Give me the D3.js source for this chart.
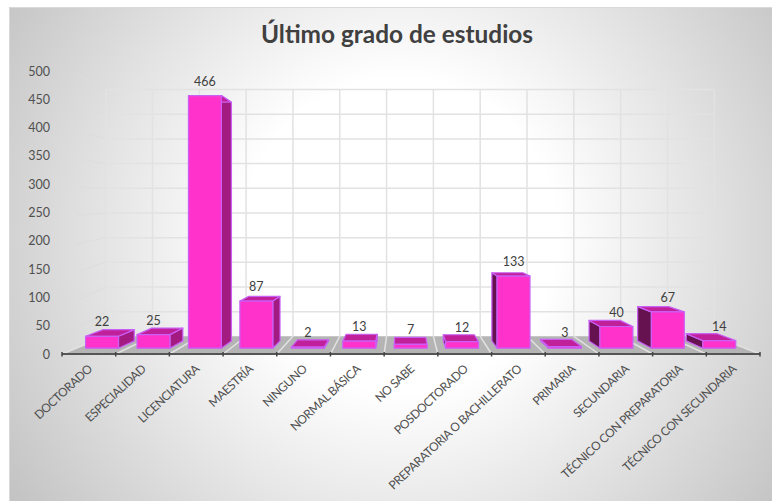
<!DOCTYPE html>
<html>
<head>
<meta charset="utf-8">
<script src="https://cdn.jsdelivr.net/npm/d3@7"></script>
<style>
  html, body { margin: 0; padding: 0; background: #fff; }
  svg { display: block; }
  text { font-family: Lato, "Open Sans", sans-serif; }
</style>
</head>
<body>
<svg id="chart" width="772" height="501"></svg>
<script>
const chartTitle = 'Último grado de estudios';
const categories = ['DOCTORADO', 'ESPECIALIDAD', 'LICENCIATURA', 'MAESTRÍA', 'NINGUNO', 'NORMAL BÁSICA', 'NO SABE',
  'POSDOCTORADO', 'PREPARATORIA O BACHILLERATO', 'PRIMARIA', 'SECUNDARIA', 'TÉCNICO CON PREPARATORIA', 'TÉCNICO CON SECUNDARIA'];
const values = [22, 25, 466, 87, 2, 13, 7, 12, 133, 3, 40, 67, 14];
const yTicks = [0, 50, 100, 150, 200, 250, 300, 350, 400, 450, 500];

const svg = d3.select('#chart');
const panel = { x: 9, y: 7, w: 763, h: 494 };

// front plane of the 3d box, the rest comes from the projection
const x = d3.scaleBand().domain(categories).range([62, 760]).paddingInner(0).paddingOuter(0);
const y = d3.scaleLinear().domain([0, 500]).range([354, 71]);

// depth: 1 = front edge, the back wall is smaller and closer to the vanishing point
const vanish = { x: 403, y: 216 };
const wallDepth = 0.872, barFront = 0.958, barBack = 0.905;
const barWidth = 0.64;

const project = (px, value, s) => [vanish.x + s * (px - vanish.x), vanish.y + s * (y(value) - vanish.y)];
const poly = pts => 'M' + pts.map(p => p.join(',')).join('L') + 'Z';

// background
const defs = svg.append('defs');
const grad = defs.append('radialGradient').attr('id', 'bg')
  .attr('gradientUnits', 'userSpaceOnUse')
  .attr('cx', 400).attr('cy', 235).attr('r', 490);
grad.append('stop').attr('offset', '0.32').attr('stop-color', '#ffffff');
grad.append('stop').attr('offset', '1').attr('stop-color', '#bfbfbf');

svg.append('rect')
  .attr('x', panel.x).attr('y', panel.y)
  .attr('width', panel.w).attr('height', panel.h)
  .attr('fill', 'url(#bg)');

// lighter edge on the top and left of the panel
svg.append('path')
  .attr('d', d3.line()([[panel.x + 0.5, panel.y + panel.h], [panel.x + 0.5, panel.y + 0.5], [panel.x + panel.w, panel.y + 0.5]]))
  .attr('fill', 'none').attr('stroke', '#d9d9d9').attr('stroke-width', 1);

svg.append('text')
  .attr('x', 397).attr('y', 43)
  .attr('text-anchor', 'middle')
  .attr('font-size', 24.4).attr('font-weight', 700)
  .attr('fill', '#404040')
  .text(chartTitle);

// floor
const [x0, x1] = x.range();
svg.append('path')
  .attr('d', poly([project(x0, 0, 1), project(x1, 0, 1), project(x1, 0, wallDepth), project(x0, 0, wallDepth)]))
  .attr('fill', '#b4b4b4');

// gridlines on the side wall and back wall
const grid = svg.append('g').attr('fill', 'none').attr('stroke', '#e2e2e2').attr('stroke-width', 1.5);
yTicks.slice(1).forEach(t => {
  const a = project(x0, t, 1), b = project(x0, t, wallDepth), c = project(x1, t, wallDepth);
  grid.append('path').attr('d', d3.line()([[a[0] + 15, a[1] + 3], b])).attr('stroke', '#dcdcdc').attr('stroke-opacity', 0.6);
  grid.append('path').attr('d', d3.line()([b, c]));
});
const edges = categories.map(c => x(c)).concat(x1);
edges.forEach(e => {
  grid.append('path').attr('d', d3.line()([project(e, 0, wallDepth), project(e, 500, wallDepth)]));
  grid.append('path').attr('d', d3.line()([project(e, 0, 1), project(e, 0, wallDepth)]));
});

// bars
const barX = d => x(d.cat) + x.bandwidth() * (1 - barWidth) / 2;
const data = categories.map((cat, i) => ({ cat, value: values[i] }));
const bars = svg.append('g').selectAll('g').data(data).join('g')
  .attr('stroke', '#c95ff5').attr('stroke-width', 1.2).attr('stroke-linejoin', 'round');

bars.each(function (d) {
  const g = d3.select(this);
  const l = barX(d), r = l + x.bandwidth() * barWidth;
  const p = (px, v, s) => project(px, v, s);
  const topFace = [p(l, d.value, barFront), p(r, d.value, barFront), p(r, d.value, barBack), p(l, d.value, barBack)];
  // side that faces the vanishing point
  if (r < vanish.x) {
    g.append('path').attr('fill', '#a31b80')
      .attr('d', poly([p(r, 0, barFront), p(r, d.value, barFront), p(r, d.value, barBack), p(r, 0, barBack)]));
  } else if (l > vanish.x) {
    g.append('path').attr('fill', '#661250')
      .attr('d', poly([p(l, 0, barFront), p(l, d.value, barFront), p(l, d.value, barBack), p(l, 0, barBack)]));
  }
  g.append('path').attr('fill', '#c0209a').attr('d', poly(topFace));
  g.append('path').attr('fill', '#ff33cc')
    .attr('d', poly([p(l, 0, barFront), p(r, 0, barFront), p(r, d.value, barFront), p(l, d.value, barFront)]));
});

// value labels sit a fixed distance above the front top edge
svg.append('g').selectAll('text').data(data).join('text')
  .attr('x', d => project(x(d.cat) + x.bandwidth() / 2, d.value, barFront)[0])
  .attr('y', d => project(0, d.value, barFront)[1] - 10)
  .attr('text-anchor', 'middle')
  .attr('font-size', 12.5)
  .attr('fill', '#404040')
  .text(d => d.value);

// y axis
const yAxis = svg.append('g')
  .attr('transform', `translate(54,0)`)
  .call(d3.axisLeft(y).tickValues(yTicks).tickSize(0).tickPadding(4));
yAxis.select('.domain').remove();
yAxis.selectAll('text').attr('font-size', 12.5).attr('fill', '#505050');

// x axis: line, ticks at band edges, rotated labels
svg.append('path')
  .attr('d', d3.line()([[x0, y(0)], [x1, y(0)]]))
  .attr('stroke', '#555').attr('stroke-width', 2).attr('fill', 'none');
svg.append('g').selectAll('line').data(edges).join('line')
  .attr('x1', d => d).attr('x2', d => d)
  .attr('y1', y(0) - 2).attr('y2', y(0) + 2.5)
  .attr('stroke', '#444').attr('stroke-width', 1.5);

const xAxis = svg.append('g')
  .attr('transform', `translate(0,${y(0)})`)
  .call(d3.axisBottom(x).tickSize(0).tickPadding(0));
xAxis.select('.domain').remove();
xAxis.selectAll('text')
  .attr('font-size', 12).attr('letter-spacing', -0.45).attr('fill', '#505050')
  .attr('text-anchor', 'end')
  .attr('dy', 0)
  .attr('transform', 'translate(4,16) rotate(-43)');
</script>
</body>
</html>
